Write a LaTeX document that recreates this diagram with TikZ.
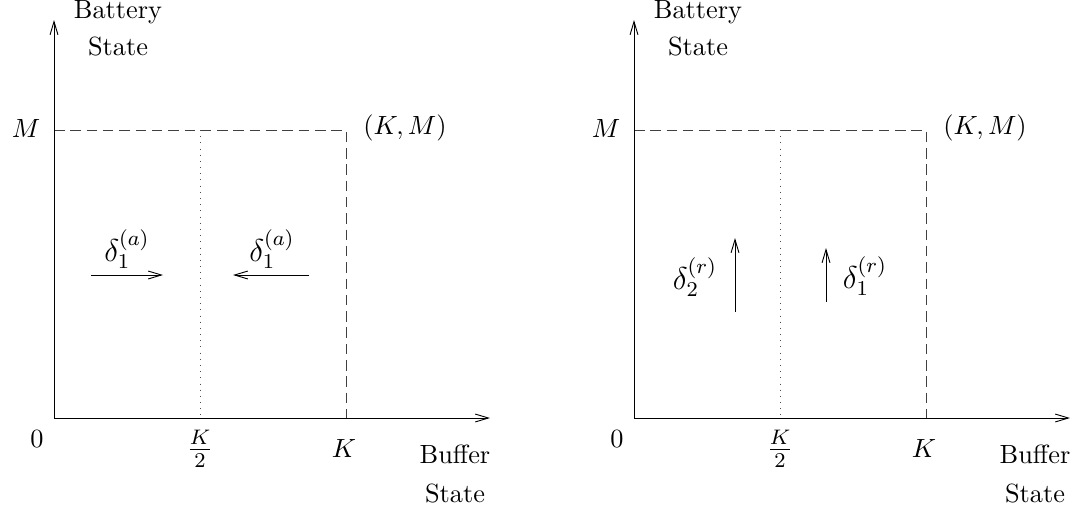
\documentclass[tikz,border=0pt]{standalone}
\usetikzlibrary{arrows.meta}
\begin{document}
\begin{tikzpicture}[x=0.38pt,y=-0.38pt, line width=0.35pt,
  axis/.style={-{Straight Barb[length=5pt,width=3pt]}},
  bound/.style={dash pattern=on 4pt off 2.2pt, black!75},
  half/.style={dotted, black!70},
  flow/.style={-{Straight Barb[length=5pt,width=3pt]}},
  lbl/.style={inner sep=0pt},
  dlbl/.style={inner sep=0pt, font=\large}]
\useasboundingbox (0,0) rectangle (1078,509);
% ---------- left panel ----------
\coordinate (aO) at (54,418);
\coordinate (aY) at (54,20);
\coordinate (aX) at (490,418);
\coordinate (aM) at (54,130);
\coordinate (aKM) at (346,130);
\coordinate (aK) at (346,418);
\coordinate (aHt) at (200,130);
\coordinate (aHb) at (200,418);
\draw[bound] (aM) -- (aKM) -- (aK);
\draw[half] (aHt) -- (aHb);
\draw[axis] (aO) -- (aY);
\draw[axis] (aO) -- (aX);
\node[lbl,anchor=base] (aBat) at (118,18) {Battery};
\node[lbl,anchor=base] (aBst) at (118,55) {State};
\node[lbl,anchor=base] (aBuf) at (455,463) {Buffer};
\node[lbl,anchor=base] (aBus) at (455,502) {State};
\node[lbl] (aMl) at (26,129) {$M$};
\node[lbl] (a0) at (37,439) {$0$};
\node[dlbl] (aK2) at (200,449) {$\frac{K}{2}$};
\node[lbl] (aKl) at (344,448) {$K$};
\node[lbl] (aKMl) at (405,128) {$(K,M)$};
\coordinate (aA1s) at (91,275);
\coordinate (aA1e) at (163,275);
\coordinate (aA2s) at (309,275);
\coordinate (aA2e) at (233,275);
\draw[flow] (aA1s) -- (aA1e);
\draw[flow] (aA2s) -- (aA2e);
\node[dlbl] (aD1) at (127,249) {$\delta_1^{(a)}$};
\node[dlbl] (aD2) at (272,249) {$\delta_1^{(a)}$};
% ---------- right panel ----------
\coordinate (bO) at (634,418);
\coordinate (bY) at (634,20);
\coordinate (bX) at (1070,418);
\coordinate (bM) at (634,130);
\coordinate (bKM) at (926,130);
\coordinate (bK) at (926,418);
\coordinate (bHt) at (780,130);
\coordinate (bHb) at (780,418);
\draw[bound] (bM) -- (bKM) -- (bK);
\draw[half] (bHt) -- (bHb);
\draw[axis] (bO) -- (bY);
\draw[axis] (bO) -- (bX);
\node[lbl,anchor=base] (bBat) at (698,18) {Battery};
\node[lbl,anchor=base] (bBst) at (698,55) {State};
\node[lbl,anchor=base] (bBuf) at (1035,463) {Buffer};
\node[lbl,anchor=base] (bBus) at (1035,502) {State};
\node[lbl] (bMl) at (606,129) {$M$};
\node[lbl] (b0) at (617,439) {$0$};
\node[dlbl] (bK2) at (780,449) {$\frac{K}{2}$};
\node[lbl] (bKl) at (924,448) {$K$};
\node[lbl] (bKMl) at (985,128) {$(K,M)$};
\coordinate (bA1s) at (735,312);
\coordinate (bA1e) at (735,238);
\coordinate (bA2s) at (826,302);
\coordinate (bA2e) at (826,248);
\draw[flow] (bA1s) -- (bA1e);
\draw[flow] (bA2s) -- (bA2e);
\node[dlbl] (bD2) at (695,277) {$\delta_2^{(r)}$};
\node[dlbl] (bD1) at (865,276) {$\delta_1^{(r)}$};
\end{tikzpicture}
\end{document}
